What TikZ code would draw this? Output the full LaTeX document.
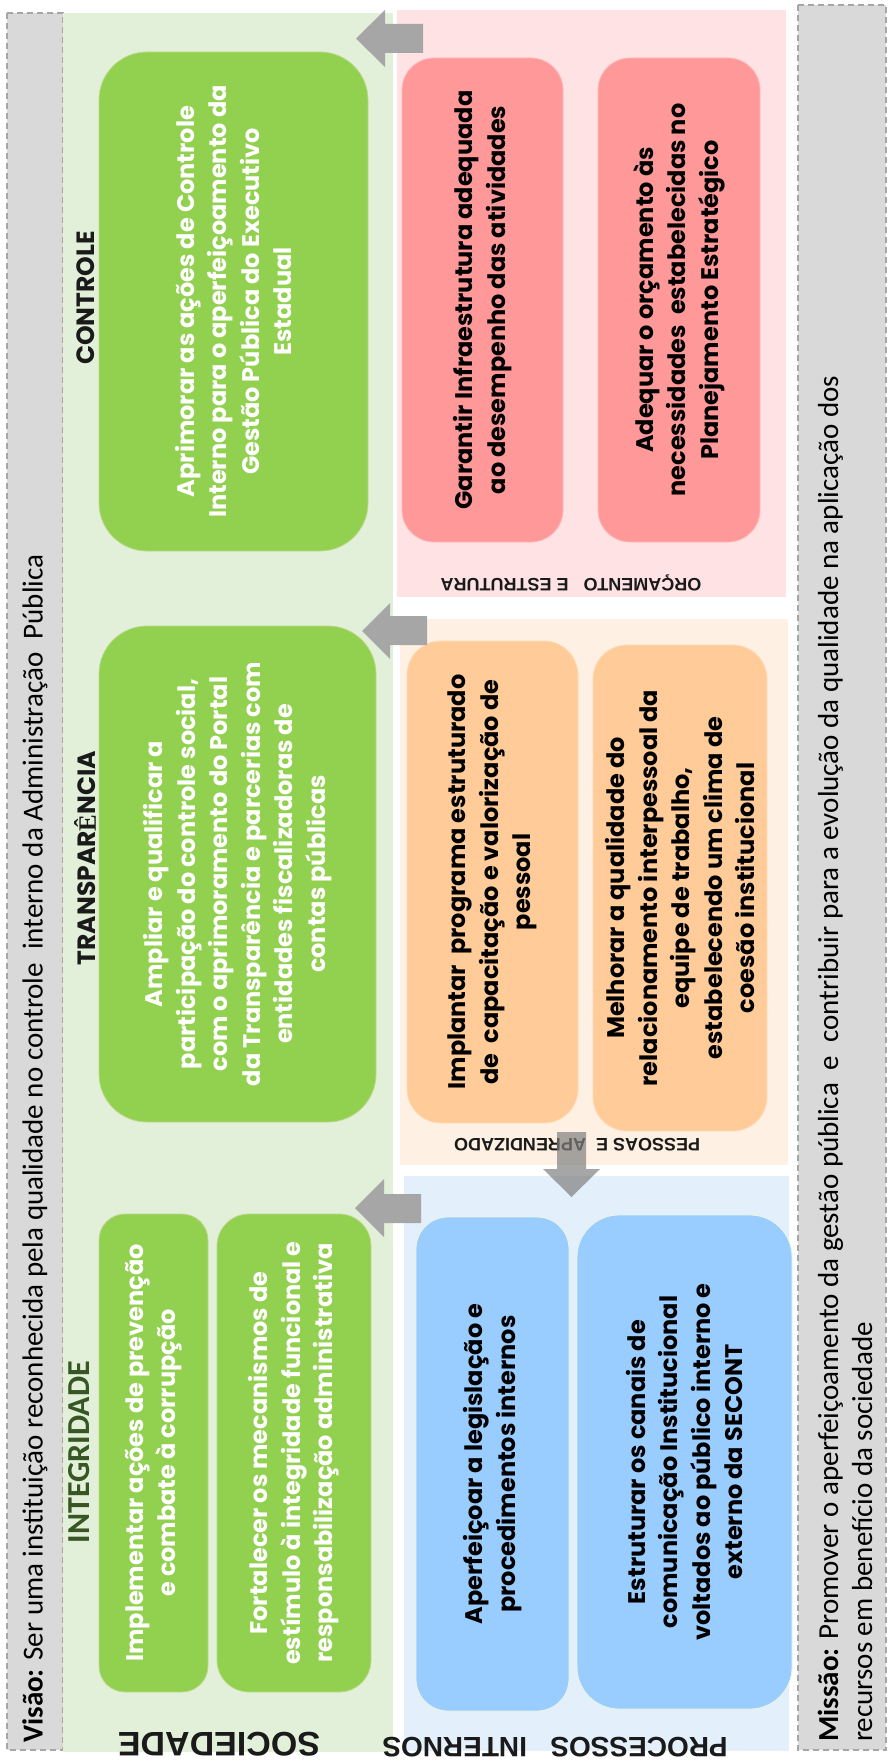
\documentclass[tikz,border=0pt]{standalone}
\usepackage{fontspec}
\setmainfont{Poppins}
\newfontfamily\calfont{Carlito}
\newfontfamily\arialfont{Liberation Sans}
\newfontfamily\timesfont{Liberation Serif}
\definecolor{FrameGray}{HTML}{D9D9D9}
\definecolor{DashGray}{HTML}{A6A6A6}
\definecolor{SocBand}{HTML}{E2F0D9}
\definecolor{Leaf}{HTML}{92D050}
\definecolor{OrcBand}{HTML}{FFE3E4}
\definecolor{Salmon}{HTML}{FF9999}
\definecolor{PesBand}{HTML}{FEF0E2}
\definecolor{Apricot}{HTML}{FFCC99}
\definecolor{ProcBand}{HTML}{E3EFFB}
\definecolor{Sky}{HTML}{99CCFF}
\definecolor{ArrowGray}{HTML}{A6A6A6}
\definecolor{DeepGreen}{HTML}{375623}
\definecolor{Ink}{HTML}{1A1A1A}

\begin{document}
\begin{tikzpicture}[
  x=1pt, y=-1pt,
  frame/.style={
    draw=DashGray,
    line width=1.2pt,
    dash pattern=on 6pt off 4pt,
    fill=FrameGray
  },
  goal/.style={
    rectangle,
    rotate=90,
    rounded corners=#1,
    align=center,
    inner sep=4pt,
    line width=0.8pt,
    font=\bfseries\fontsize{24}{32.5}\selectfont
  },
  greengoal/.style={goal=#1, fill=Leaf, draw=Leaf!60!OrcBand, text=white},
  pinkgoal/.style={goal=#1, fill=Salmon, draw=Salmon!70!white, text=black},
  peachgoal/.style={goal=#1, fill=Apricot, draw=Apricot!70!white, text=black},
  bluegoal/.style={goal=#1, fill=Sky, draw=Sky!60!yellow!30!white, text=black},
  theme/.style={
    rotate=90,
    text=Ink,
    inner sep=0pt,
    font=\bfseries\fontsize{25}{25}\selectfont
  },
  perspective/.style={
    rotate=180,
    text=Ink,
    inner sep=0pt,
    font=\arialfont\bfseries\fontsize{#1}{#1}\selectfont
  },
  statement/.style={
    rotate=90,
    anchor=west,
    align=left,
    inner sep=0pt,
    text=black,
    font=\calfont\fontsize{29}{34}\selectfont
  },
  leftarrow/.style={fill=ArrowGray},
  downarrow/.style={fill=gray, opacity=0.7}
]

\useasboundingbox (0,0) rectangle (887,1760);

% bands
\draw[frame] (7,13) rectangle (63,1750);
\fill[SocBand] (63,13) rectangle (393,1752);
\fill[OrcBand] (397,10) rectangle (786,597);
\fill[PesBand] (400,619) rectangle (788,1165);
\fill[ProcBand] (404,1176) rectangle (789,1751);
\draw[frame] (798,5) rectangle (886,1750);

% vision and mission
\node[statement] (visao) at (35,1743)
  {\textbf{Visão:} Ser uma instituição reconhecida pela qualidade no controle\ \ interno da Administração\ \ Pública};
\node[statement] (missao) at (845,1742)
  {\textbf{Missão:} Promover o aperfeiçoamento da gestão pública\ \ e\ \ contribuir para a evolução da qualidade na aplicação dos\\
   recursos em benefício da sociedade};

% sociedade
\node[theme] (controle) at (86,298) {CONTROLE};
\node[theme] (transparencia) at (85,858) {TRANSPAR{\timesfont Ê}NCIA};
\node[theme, text=DeepGreen, font=\calfont\bfseries\fontsize{32}{32}\selectfont] (integridade) at (79,1452) {INTEGRIDADE};

\node[greengoal=48pt, minimum width=499pt, minimum height=269pt] (ctrl) at (233.5,301.5)
  {Aprimorar as ações de Controle\\Interno para o aperfeiçoamento da\\Gestão Pública do Executivo\\Estadual};
\node[greengoal=48pt, minimum width=496pt, minimum height=277pt] (transp) at (237.5,874)
  {Ampliar e qualificar a\\participação do controle social,\\com o aprimoramento do Portal\\da Transparência e parcerias com\\entidades fiscalizadoras de\\contas públicas};
\node[greengoal=26pt, minimum width=478pt, minimum height=109pt] (integ1) at (153.5,1453)
  {Implementar ações de prevenção\\e combate à corrupção};
\node[greengoal=32pt, minimum width=478pt, minimum height=154pt] (integ2) at (294,1453)
  {Fortalecer os mecanismos de\\estímulo à integridade funcional e\\responsabilização administrativa};

\node[perspective=34] (sociedade) at (219,1744) {SOCIEDADE};

% orcamento e estrutura
\node[pinkgoal=32pt, minimum width=484pt, minimum height=161pt] (orc1) at (482.5,300)
  {Garantir Infraestrutura adequada\\ao desempenho das atividades};
\node[pinkgoal=32pt, minimum width=484pt, minimum height=162pt] (orc2) at (679,300)
  {Adequar o orçamento às\\necessidades\ \ estabelecidas no\\Planejamento Estratégico};
\node[perspective=18] (orcamento) at (571,583) {ORÇAMENTO\ \ \ E ESTRUTURA};

% pessoas e aprendizado
\node[peachgoal=34pt, minimum width=482pt, minimum height=171pt] (pes1) at (492.5,882)
  {Implantar\ \ programa estruturado\\de\ \ capacitação e valorização de\\pessoal};
\node[peachgoal=34pt, minimum width=486pt, minimum height=174pt] (pes2) at (680,888)
  {Melhorar a qualidade do\\relacionamento interpessoal da\\equipe de trabalho,\\estabelecendo um clima de\\coesão institucional};
\node[perspective=18] (pessoas) at (577,1145) {PESSOAS E\ \ APRENDIZADO};

% processos internos
\node[bluegoal=32pt, minimum width=494pt, minimum height=153pt] (proc1) at (492.5,1464)
  {Aperfeiçoar a legislação e\\procedimentos internos};
\node[bluegoal=42pt, minimum width=494pt, minimum height=215pt] (proc2) at (684.5,1462)
  {Estruturar os canais de\\comunicação Institucional\\voltados ao público interno e\\externo da SECONT};
\node[perspective=28] (processos) at (555,1747) {PROCESSOS\ \ \ INTERNOS};

% block arrows
\fill[leftarrow] (423,24) -- (385,24) -- (385,10) -- (356,38.5) -- (385,67) -- (385,53) -- (423,53) -- cycle;
\fill[leftarrow] (427,616) -- (390,616) -- (390,603) -- (362,631) -- (390,659) -- (390,645) -- (427,645) -- cycle;
\fill[leftarrow] (421,1194) -- (384,1194) -- (384,1179) -- (355,1208) -- (384,1237) -- (384,1223) -- (421,1223) -- cycle;
\fill[downarrow] (557,1132) -- (557,1169) -- (543,1169) -- (571.5,1197) -- (600,1169) -- (586,1169) -- (586,1132) -- cycle;

\end{tikzpicture}
\end{document}
